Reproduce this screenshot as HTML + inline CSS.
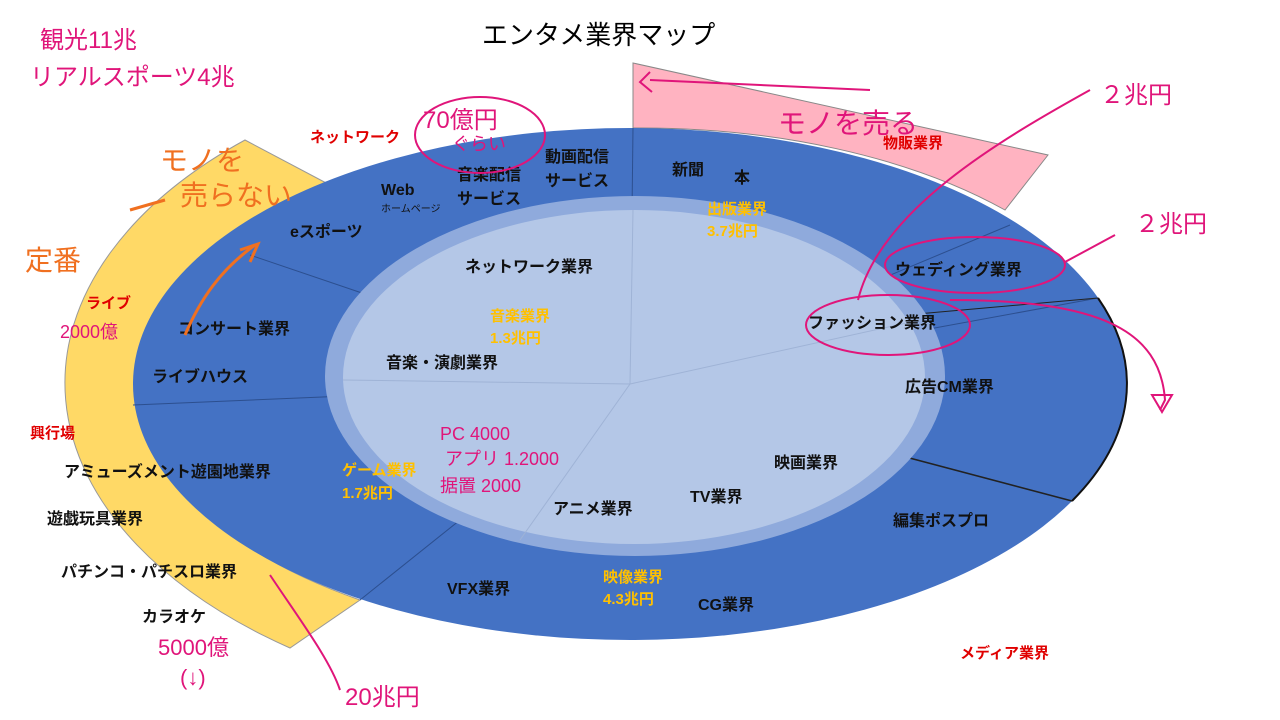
<!DOCTYPE html>
<html><head><meta charset="utf-8"><style>
html,body{margin:0;padding:0;background:#fff;width:1280px;height:720px;overflow:hidden}
svg text{font-family:"Liberation Sans","Noto Sans CJK JP",sans-serif}
</style></head><body>
<svg width="1280" height="720" viewBox="0 0 1280 720" xmlns="http://www.w3.org/2000/svg">
<path d="M245,140 A570,333 0 0 0 290,648 L360,600 A497,257 0 0 1 330,185 Z" fill="#FFD966" stroke="#999" stroke-width="1"/>
<path d="M633,63 L1048,155 L1005,210 A497,257 0 0 0 633,128 Z" fill="#FFB3C1" stroke="#888" stroke-width="1"/>
<ellipse cx="630" cy="384" rx="497" ry="256" fill="#4472C4"/>
<path d="M1098,298 A497,256 0 0 1 1072,501" fill="none" stroke="#111" stroke-width="2"/>
<g stroke="#2c4f8f" stroke-width="1">
<line x1="630" y1="384" x2="633" y2="128"/>
<line x1="630" y1="384" x2="250" y2="255"/>
<line x1="630" y1="384" x2="133" y2="405"/>
<line x1="630" y1="384" x2="360" y2="600"/>
<line x1="630" y1="384" x2="1010" y2="225"/>
<line x1="630" y1="384" x2="1098" y2="298"/>
</g>
<line x1="630" y1="384" x2="1072" y2="501" stroke="#222" stroke-width="1.5"/>
<line x1="850" y1="320" x2="1098" y2="298" stroke="#222" stroke-width="1"/>
<ellipse cx="635" cy="376" rx="310" ry="180" fill="#8FAADC"/>
<ellipse cx="634" cy="377" rx="291" ry="167" fill="#B4C7E7"/>
<g stroke="#9fb3d6" stroke-width="1">
<line x1="630" y1="384" x2="633" y2="210"/>
<line x1="630" y1="384" x2="343" y2="380"/>
<line x1="630" y1="384" x2="920" y2="320"/>
<line x1="630" y1="384" x2="520" y2="540"/>
</g>
<text x="482" y="44" font-size="26" fill="#000">エンタメ業界マップ</text>
<g font-size="16" font-weight="bold" fill="#111">
<text x="545" y="162">動画配信</text><text x="545" y="186">サービス</text>
<text x="457" y="180">音楽配信</text><text x="457" y="204">サービス</text>
<text x="381" y="195">Web</text>
<text x="672" y="175">新聞</text><text x="734" y="183">本</text>
<text x="290" y="237">eスポーツ</text>
<text x="465" y="272">ネットワーク業界</text>
<text x="895" y="275">ウェディング業界</text>
<text x="808" y="328">ファッション業界</text>
<text x="178" y="334">コンサート業界</text>
<text x="386" y="368">音楽・演劇業界</text>
<text x="152" y="382">ライブハウス</text>
<text x="905" y="392">広告CM業界</text>
<text x="774" y="468">映画業界</text>
<text x="64" y="477">アミューズメント遊園地業界</text>
<text x="690" y="502">TV業界</text>
<text x="553" y="514">アニメ業界</text>
<text x="47" y="524">遊戯玩具業界</text>
<text x="893" y="526">編集ポスプロ</text>
<text x="61" y="577">パチンコ・パチスロ業界</text>
<text x="447" y="594">VFX業界</text>
<text x="698" y="610">CG業界</text>
<text x="142" y="622">カラオケ</text>
</g>
<text x="381" y="212" font-size="10" fill="#111">ホームページ</text>
<g font-size="15" font-weight="bold" fill="#FFC000">
<text x="707" y="214">出版業界</text><text x="707" y="236">3.7兆円</text>
<text x="490" y="321">音楽業界</text><text x="490" y="343">1.3兆円</text>
<text x="342" y="475">ゲーム業界</text><text x="342" y="498">1.7兆円</text>
<text x="603" y="582">映像業界</text><text x="603" y="604">4.3兆円</text>
</g>
<g font-size="15" font-weight="bold" fill="#E00000">
<text x="310" y="142">ネットワーク</text>
<text x="883" y="148">物販業界</text>
<text x="86" y="308">ライブ</text>
<text x="30" y="438">興行場</text>
<text x="960" y="658">メディア業界</text>
</g>
<g font-size="24" fill="#E0157A">
<text x="40" y="48">観光11兆</text>
<text x="30" y="85">リアルスポーツ4兆</text>
<text x="423" y="128">70億円</text>
<text x="452" y="150" font-size="18">ぐらい</text>
<text x="1100" y="103">２兆円</text>
<text x="1135" y="232">２兆円</text>
<text x="778" y="133" font-size="28">モノを売る</text>
<text x="440" y="440" font-size="18">PC 4000</text>
<text x="445" y="465" font-size="18">アプリ 1.2000</text>
<text x="440" y="492" font-size="18">据置 2000</text>
<text x="60" y="338" font-size="18">2000億</text>
<text x="158" y="655" font-size="22">5000億</text>
<text x="180" y="685" font-size="22">(↓)</text>
<text x="345" y="705" font-size="24">20兆円</text>
</g>
<g font-size="28" fill="#F07020">
<text x="160" y="170">モノを</text>
<text x="180" y="205">売らない</text>
<text x="25" y="270">定番</text>
</g>
<g fill="none" stroke="#E0157A" stroke-width="2">
<ellipse cx="480" cy="135" rx="65" ry="38"/>
<ellipse cx="975" cy="265" rx="90" ry="28"/>
<ellipse cx="888" cy="325" rx="82" ry="30"/>
<path d="M1090,90 C1000,140 880,210 858,300"/>
<path d="M1065,262 L1115,235"/>
<path d="M950,300 C1100,300 1160,330 1165,400 L1160,410"/>
<path d="M1152,395 L1172,395 L1162,412 Z"/>
<path d="M870,90 L650,80 M650,72 L640,82 L652,92"/>
<path d="M270,575 C300,620 330,660 340,690"/>
</g>
<g fill="none" stroke="#F07020" stroke-width="3">
<path d="M255,245 C220,270 200,300 185,335"/>
<path d="M240,250 L258,244 L250,262"/>
<path d="M130,210 L165,200"/>
</g>
</svg>
</body></html>
